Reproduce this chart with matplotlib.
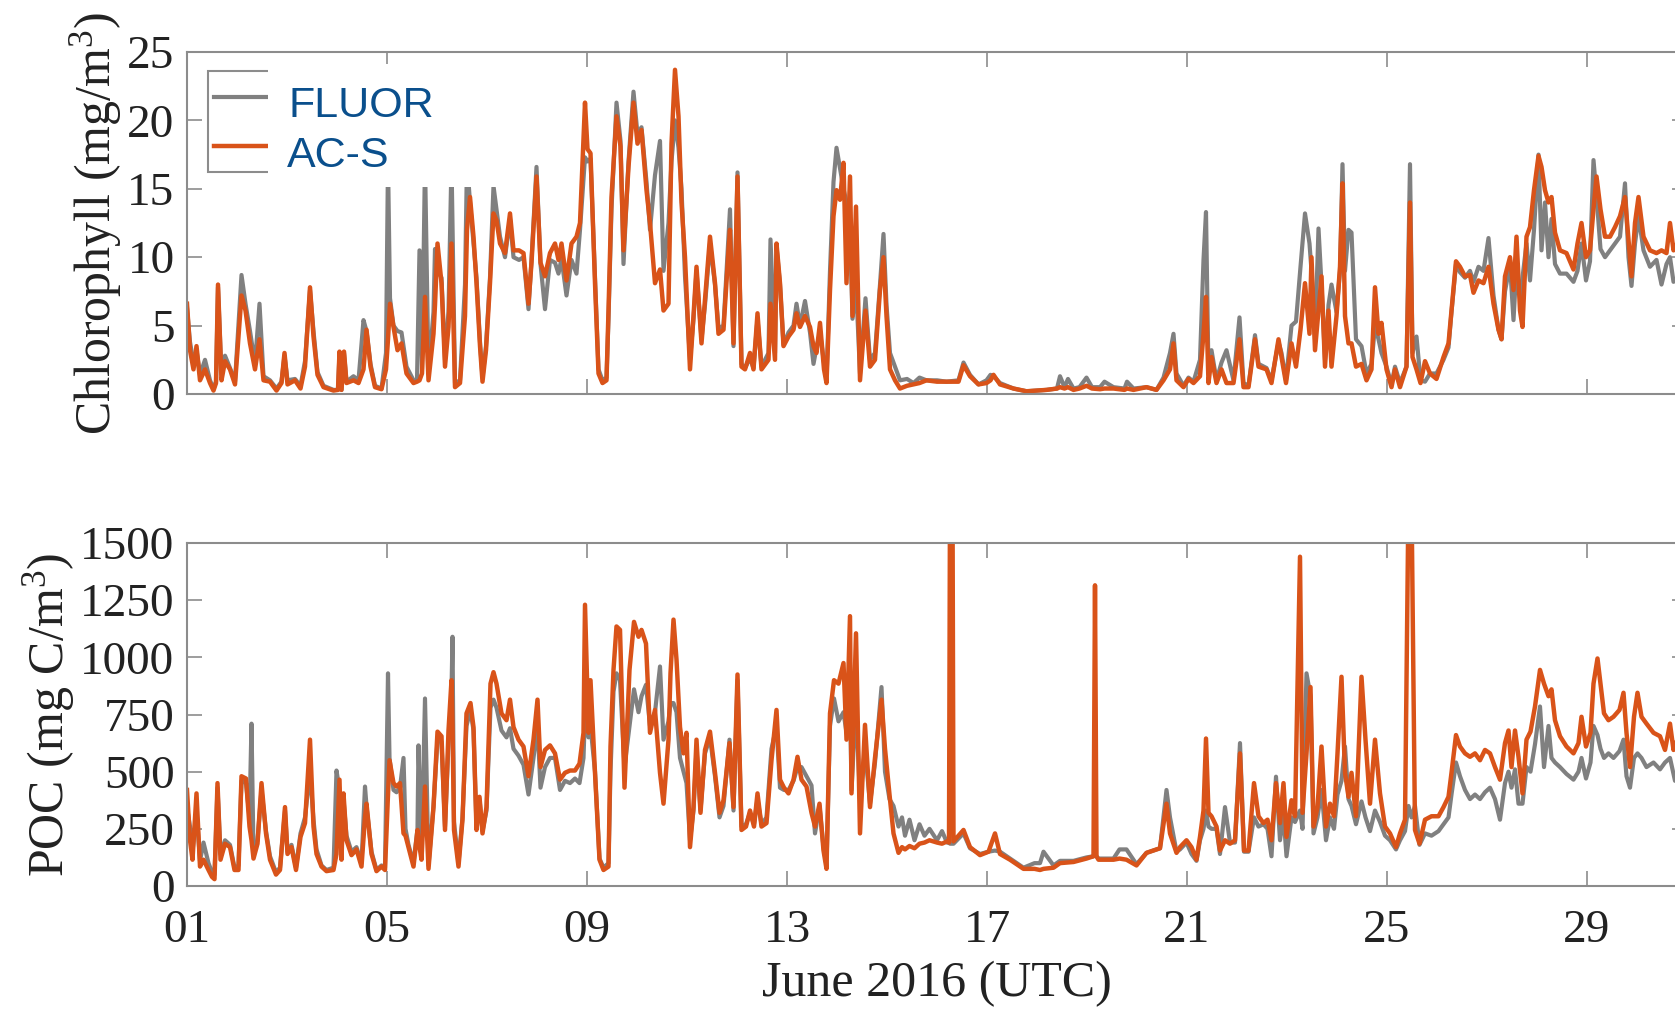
import matplotlib
matplotlib.use("Agg")
import matplotlib.pyplot as plt
from matplotlib.patches import Rectangle
from matplotlib.lines import Line2D

plt.rcParams['font.family'] = 'Liberation Serif'
plt.rcParams['mathtext.fontset'] = 'custom'
plt.rcParams['mathtext.rm'] = 'Liberation Serif'
plt.rcParams['mathtext.it'] = 'Liberation Serif:italic'

# ---- data (day of June 2016) ----
chl_day = [
    1.00, 1.06, 1.13, 1.19, 1.26, 1.36, 1.46, 1.53, 1.58, 1.62, 1.69, 1.76, 1.86, 1.96,
    2.09, 2.17, 2.26, 2.36, 2.45, 2.53, 2.66, 2.79, 2.89, 2.95,
    3.01, 3.16, 3.27, 3.36, 3.46, 3.53, 3.61, 3.73, 3.93,
    4.02, 4.05, 4.09, 4.14, 4.19, 4.33, 4.43, 4.53, 4.59, 4.67, 4.76, 4.89, 4.98,
    5.02, 5.06, 5.13, 5.21, 5.29, 5.39, 5.53, 5.60, 5.65, 5.70, 5.76, 5.83, 5.93, 5.96,
    6.01, 6.09, 6.16, 6.23, 6.29, 6.36, 6.46, 6.56, 6.60, 6.66, 6.73, 6.79, 6.86, 6.91, 6.98,
    7.06, 7.13, 7.19, 7.26, 7.36, 7.46, 7.53, 7.64, 7.73, 7.83, 7.89, 7.99,
    8.07, 8.16, 8.26, 8.36, 8.43, 8.49, 8.59, 8.69, 8.79, 8.86, 8.96,
    9.01, 9.07, 9.16, 9.23, 9.31, 9.39, 9.43, 9.49, 9.59, 9.67, 9.73, 9.83, 9.93,
    10.01, 10.09, 10.19, 10.26, 10.36, 10.46, 10.53, 10.63, 10.69, 10.76, 10.83, 10.89, 10.96,
    11.06, 11.13, 11.19, 11.29, 11.36, 11.46, 11.56, 11.63, 11.73, 11.83, 11.86, 11.93,
    12.01, 12.09, 12.16, 12.26, 12.33, 12.41, 12.49, 12.63, 12.67, 12.76, 12.79, 12.86, 12.93,
    13.03, 13.13, 13.19, 13.26, 13.36, 13.46, 13.53, 13.59, 13.66, 13.74, 13.79, 13.86, 13.93, 13.99,
    14.06, 14.13, 14.19, 14.26, 14.31, 14.38, 14.46, 14.57, 14.66, 14.76, 14.86, 14.93, 14.99,
    15.06, 15.16, 15.26, 15.40, 15.53, 15.65, 15.79,
    16.00, 16.19, 16.43, 16.53, 16.66, 16.83, 16.99,
    17.07, 17.13, 17.26, 17.53, 17.79,
    18.19, 18.40, 18.46, 18.55, 18.62, 18.73, 18.85, 18.99,
    19.10, 19.26, 19.35, 19.53, 19.75, 19.80, 19.93,
    20.19, 20.39, 20.53, 20.66, 20.73, 20.79, 20.93,
    21.03, 21.13, 21.26, 21.33, 21.38, 21.43, 21.49, 21.59, 21.69, 21.79, 21.93,
    22.05, 22.13, 22.23, 22.36, 22.43, 22.59, 22.69, 22.83, 22.89, 22.98,
    23.09, 23.18, 23.27, 23.36, 23.45, 23.49, 23.56, 23.63, 23.69, 23.76, 23.83, 23.89, 23.99,
    24.06, 24.11, 24.16, 24.23, 24.29, 24.38, 24.49, 24.59, 24.69, 24.76, 24.83, 24.89, 24.99,
    25.09, 25.16, 25.26, 25.39, 25.46, 25.51, 25.59, 25.67, 25.76, 25.86, 25.99,
    26.13, 26.23, 26.29, 26.38, 26.46, 26.56, 26.66, 26.73, 26.83, 26.93,
    27.03, 27.13, 27.23, 27.29, 27.36, 27.46, 27.53, 27.59, 27.66, 27.71, 27.79, 27.86, 27.94,
    28.03, 28.09, 28.16, 28.23, 28.29, 28.36, 28.46, 28.59, 28.73, 28.81, 28.89, 28.98,
    29.06, 29.13, 29.19, 29.27, 29.36, 29.46, 29.56, 29.66, 29.76, 29.83, 29.89, 29.96,
    30.03, 30.13, 30.26, 30.39, 30.49, 30.59, 30.66, 30.73, 30.80, 30.90, 31.00,
]
chl_acs = [
    6.6, 3.2, 1.8, 3.5, 1.0, 1.8, 0.8, 0.25, 0.8, 8.0, 1.0, 2.4, 1.8, 0.7,
    7.2, 6.1, 3.7, 1.8, 4.0, 1.0, 0.9, 0.25, 0.8, 3.0,
    0.7, 1.0, 0.4, 2.0, 7.8, 4.2, 1.4, 0.5, 0.25,
    0.3, 3.1, 0.3, 3.1, 0.8, 1.0, 0.8, 1.8, 4.7, 2.0, 0.5, 0.35, 1.8,
    4.0, 6.6, 4.9, 3.2, 3.7, 1.5, 0.8, 0.9, 1.0, 1.5, 7.1, 1.0, 4.4, 6.5,
    11.0, 8.1, 2.0, 4.9, 11.0, 0.5, 0.8, 5.7, 12.0, 14.4, 11.5, 8.1, 3.5, 0.9, 3.2,
    8.1, 13.2, 12.7, 11.0, 10.3, 13.2, 10.5, 10.5, 10.3, 6.6, 9.6, 15.9,
    9.6, 8.6, 10.3, 11.0, 9.8, 11.0, 8.3, 11.0, 11.5, 12.5, 21.3,
    17.9, 17.6, 8.1, 1.5, 0.8, 1.0, 6.1, 14.4, 20.3, 18.1, 10.5, 16.6, 21.3,
    18.3, 19.3, 14.9, 12.5, 8.1, 9.1, 6.1, 6.6, 18.3, 23.7, 20.3, 14.0, 10.0,
    1.8, 5.7, 9.3, 3.7, 6.9, 11.5, 8.1, 4.4, 4.7, 10.5, 12.0, 3.7,
    15.9, 2.0, 1.8, 3.0, 1.8, 5.9, 1.8, 2.5, 6.6, 2.5, 11.0, 8.1, 3.5,
    4.2, 4.7, 5.9, 4.9, 5.7, 4.9, 3.5, 3.0, 5.2, 1.8, 0.8, 7.6, 13.0, 14.9,
    14.2, 16.9, 8.1, 15.9, 5.7, 13.7, 1.0, 6.1, 2.0, 2.5, 7.6, 10.0, 5.7,
    1.8, 1.0, 0.4, 0.6, 0.7, 0.8, 1.0,
    0.9, 0.9, 0.9, 2.1, 1.3, 0.7, 0.8,
    1.0, 1.4, 0.7, 0.4, 0.2,
    0.3, 0.4, 0.5, 0.4, 0.5, 0.3, 0.4, 0.6,
    0.4, 0.35, 0.4, 0.4, 0.3, 0.4, 0.3,
    0.5, 0.3, 1.0, 1.8, 3.7, 1.0, 0.5,
    1.1, 0.8, 1.3, 4.4, 7.1, 0.8, 2.7, 0.8, 1.8, 0.8, 0.8,
    4.0, 0.5, 0.5, 4.0, 2.0, 1.8, 0.8, 4.0, 2.7, 0.8,
    3.7, 2.0, 4.7, 8.1, 4.4, 10.0, 3.2, 6.1, 8.6, 2.0, 6.1, 2.0, 5.7,
    9.3, 15.4, 5.7, 3.7, 3.7, 2.0, 2.2, 1.0, 1.8, 7.8, 4.4, 5.2, 1.8,
    0.5, 1.8, 0.5, 2.0, 14.0, 2.7, 1.8, 0.8, 2.4, 1.5, 1.1,
    2.7, 3.7, 6.1, 9.7, 9.3, 8.6, 8.7, 7.4, 8.3, 8.1,
    9.3, 6.6, 4.7, 4.0, 8.6, 10.0, 7.6, 11.5, 6.1, 4.9, 11.5, 12.2, 14.9,
    17.4, 16.6, 14.9, 14.0, 14.4, 11.8, 10.5, 10.3, 9.1, 11.0, 12.5, 10.0,
    10.5, 13.5, 15.9, 13.5, 11.5, 11.5, 12.2, 13.0, 14.4, 11.3, 8.6, 12.5,
    14.4, 11.5, 10.5, 10.3, 10.5, 10.3, 12.5, 10.5, 11.0, 10.8, 10.5,
]
chl_fluor = [
    6.3, 3.8, 2.3, 3.2, 1.4, 2.5, 1.0, 0.4, 0.9, 7.8, 1.4, 2.8, 1.9, 0.9,
    8.7, 6.6, 4.6, 2.2, 6.6, 1.3, 1.0, 0.4, 0.9, 2.8,
    1.0, 1.1, 0.6, 2.4, 7.6, 4.6, 1.6, 0.6, 0.3,
    0.3, 3.0, 0.3, 3.0, 0.9, 1.3, 1.0, 5.4, 4.6, 2.2, 0.6, 0.4, 3.0,
    17.0, 7.0, 5.0, 4.6, 4.5, 2.0, 1.0, 1.0, 10.5, 1.8, 17.0, 1.5, 6.0, 10.6,
    9.0, 8.5, 2.5, 6.0, 17.0, 0.8, 1.0, 8.0, 17.0, 14.0, 11.0, 8.5, 3.8, 1.2, 3.5,
    8.5, 15.2, 13.5, 11.5, 10.0, 12.8, 10.0, 9.8, 10.0, 6.2, 9.8, 16.6,
    9.5, 6.2, 9.8, 9.6, 8.8, 9.9, 7.2, 9.8, 8.8, 12.0, 17.3,
    17.0, 17.2, 8.5, 1.8, 1.0, 1.2, 5.5, 13.5, 21.3, 18.5, 9.5, 17.0, 22.1,
    19.0, 19.5, 15.5, 12.0, 16.0, 18.5, 9.0, 12.5, 17.0, 20.0, 18.0, 15.0, 8.6,
    2.5, 5.5, 9.0, 4.0, 6.5, 11.0, 8.0, 4.8, 5.0, 11.5, 13.5, 3.5,
    16.2, 2.2, 1.9, 2.6, 1.9, 5.5, 2.0, 3.0, 11.3, 3.0, 10.8, 8.0, 3.6,
    4.5, 5.0, 6.6, 5.0, 6.8, 4.5, 2.2, 3.4, 4.5, 2.3, 1.0, 9.0, 15.5, 18.0,
    16.5, 15.0, 14.0, 12.0, 5.5, 8.0, 1.5, 7.0, 2.5, 3.0, 8.0, 11.7, 6.5,
    3.0, 2.0, 1.0, 1.1, 0.8, 1.2, 1.0,
    1.0, 0.9, 1.0, 2.3, 1.4, 0.7, 1.0,
    1.4, 1.3, 0.8, 0.4, 0.2,
    0.3, 0.4, 1.3, 0.5, 1.1, 0.4, 0.5, 1.2,
    0.5, 0.5, 0.9, 0.5, 0.4, 0.9, 0.4,
    0.5, 0.3, 1.2, 3.0, 4.4, 1.5, 0.6,
    1.2, 0.9, 2.5, 9.8, 13.3, 1.5, 3.2, 1.0, 2.3, 3.2, 1.0,
    5.6, 0.8, 0.6, 4.3, 2.2, 1.9, 1.0, 3.8, 3.0, 1.0,
    5.0, 5.3, 9.3, 13.2, 11.0, 9.0, 4.0, 12.1, 8.0, 2.5, 6.5, 8.0, 6.0,
    9.0, 16.8, 9.0, 12.0, 11.8, 4.0, 3.5, 1.5, 2.2, 5.0, 4.0, 3.0, 2.0,
    0.7, 2.0, 0.8, 2.0, 16.8, 3.0, 4.2, 1.0, 0.9, 1.5, 1.5,
    2.5, 3.4, 6.0, 9.5, 8.9, 8.5, 9.0, 8.2, 9.3, 9.0,
    11.4, 7.2, 4.7, 4.0, 7.5, 9.5, 5.4, 9.4, 7.0, 8.5, 11.0, 8.3, 12.0,
    17.5, 10.5, 14.0, 10.0, 12.8, 9.5, 8.8, 8.8, 8.2, 9.0, 11.0, 8.3,
    9.7, 17.1, 14.5, 10.6, 10.0, 10.5, 11.0, 11.5, 15.4, 10.0, 7.9, 11.0,
    13.0, 10.5, 9.3, 9.8, 8.0, 9.5, 10.0, 8.2, 8.5, 9.5, 9.2,
]

poc_day = [
    1.00, 1.06, 1.11, 1.19, 1.26, 1.33, 1.43, 1.50, 1.55, 1.61, 1.67, 1.76, 1.86, 1.95,
    2.03, 2.09, 2.18, 2.25, 2.29, 2.33, 2.41, 2.49, 2.58, 2.66, 2.78, 2.86, 2.96,
    3.01, 3.09, 3.18, 3.27, 3.36, 3.46, 3.53, 3.59, 3.69, 3.79, 3.93, 3.99,
    4.05, 4.09, 4.13, 4.19, 4.29, 4.39, 4.49, 4.56, 4.59, 4.69, 4.79, 4.89, 4.96,
    5.02, 5.05, 5.13, 5.19, 5.26, 5.33, 5.37, 5.43, 5.53, 5.61, 5.63, 5.69, 5.76, 5.83, 5.93,
    6.01, 6.09, 6.16, 6.23, 6.29, 6.31, 6.34, 6.43, 6.51, 6.59, 6.67, 6.73, 6.79, 6.85, 6.91, 6.99,
    7.07, 7.13, 7.19, 7.29, 7.39, 7.46, 7.53, 7.63, 7.73, 7.83, 7.93,
    8.01, 8.07, 8.16, 8.26, 8.36, 8.46, 8.56, 8.66, 8.76, 8.85, 8.93, 8.96,
    9.03, 9.07, 9.16, 9.25, 9.33, 9.43, 9.47, 9.53, 9.59, 9.66, 9.75, 9.85, 9.94,
    10.03, 10.09, 10.18, 10.26, 10.36, 10.46, 10.53, 10.63, 10.67, 10.73, 10.79, 10.86, 10.93, 10.99,
    11.06, 11.13, 11.19, 11.27, 11.36, 11.46, 11.56, 11.65, 11.73, 11.85, 11.93,
    12.01, 12.09, 12.18, 12.26, 12.34, 12.41, 12.49, 12.59, 12.69, 12.79, 12.86, 12.94,
    13.03, 13.13, 13.21, 13.29, 13.39, 13.49, 13.56, 13.65, 13.73, 13.79, 13.86, 13.94,
    14.03, 14.13, 14.19, 14.26, 14.29, 14.38, 14.46, 14.56, 14.66, 14.76, 14.89, 14.96,
    15.05, 15.13, 15.23, 15.30, 15.36, 15.45, 15.55, 15.65, 15.75, 15.85,
    16.00, 16.10, 16.20, 16.24, 16.26, 16.31, 16.33, 16.53, 16.66, 16.86,
    17.03, 17.16, 17.26, 17.46, 17.73, 17.95,
    18.06, 18.13, 18.33, 18.46, 18.73, 18.99,
    19.13, 19.16, 19.19, 19.23, 19.53, 19.65, 19.79, 19.99,
    20.19, 20.46, 20.59, 20.66, 20.79, 20.86, 20.99,
    21.09, 21.19, 21.26, 21.33, 21.38, 21.43, 21.49, 21.59, 21.66, 21.76, 21.86, 21.96,
    22.06, 22.14, 22.23, 22.34, 22.43, 22.53, 22.61, 22.69, 22.78, 22.86, 22.93, 22.99,
    23.09, 23.16, 23.26, 23.31, 23.39, 23.47, 23.53, 23.61, 23.69, 23.78, 23.86, 23.94,
    24.01, 24.09, 24.16, 24.23, 24.29, 24.38, 24.49, 24.57, 24.66, 24.76, 24.86, 24.96,
    25.06, 25.18, 25.26, 25.36, 25.43, 25.49, 25.56, 25.65, 25.76, 25.89,
    26.03, 26.13, 26.23, 26.29, 26.38, 26.46, 26.56, 26.66, 26.76, 26.86, 26.96,
    27.06, 27.16, 27.26, 27.36, 27.43, 27.49, 27.56, 27.63, 27.71, 27.79, 27.87, 27.96,
    28.06, 28.14, 28.23, 28.29, 28.36, 28.46, 28.59, 28.73, 28.83, 28.89, 28.98,
    29.07, 29.13, 29.21, 29.27, 29.34, 29.43, 29.53, 29.65, 29.73, 29.79, 29.86, 29.94,
    30.01, 30.09, 30.19, 30.33, 30.46, 30.56, 30.66, 30.73, 30.76, 30.85, 30.95, 31.00,
]
poc_acs = [
    420, 200, 115, 405, 85, 115, 70, 40, 30, 450, 115, 185, 170, 70,
    70, 480, 470, 260, 200, 120, 185, 450, 230, 115, 50, 70, 345,
    140, 170, 70, 215, 275, 640, 260, 140, 85, 65, 70, 140,
    465, 115, 405, 200, 135, 160, 85, 300, 360, 140, 65, 85, 70,
    400, 550, 450, 435, 450, 230, 220, 170, 85, 245, 200, 115, 435, 75, 345,
    675, 655, 245, 680, 900, 700, 245, 85, 290, 755, 800, 695, 245, 390, 230, 345,
    885, 935, 885, 755, 725, 815, 695, 640, 610, 480, 640,
    815, 520, 595, 615, 580, 465, 495, 505, 505, 535, 670, 1230,
    670, 900, 495, 115, 70, 85, 610, 945, 1135, 1120, 430, 945, 1155,
    1090, 1120, 1060, 670, 770, 495, 360, 640, 930, 1165, 990, 695, 580, 670,
    170, 345, 640, 320, 595, 675, 495, 320, 375, 625, 345,
    925, 245, 260, 330, 260, 405, 260, 275, 550, 770, 465, 430,
    405, 465, 565, 465, 435, 320, 260, 360, 155, 75, 755, 900,
    885, 975, 640, 1180, 405, 1105, 230, 705, 345, 560, 815, 600,
    400, 230, 145, 170, 160, 175, 165, 185, 190, 200,
    190, 185, 195, 190, 1700, 1700, 195, 245, 170, 135,
    150, 230, 140, 115, 75, 75,
    70, 75, 80, 100, 105, 120,
    130, 1315, 130, 115, 115, 120, 115, 90,
    145, 165, 360, 230, 145, 170, 200,
    170, 115, 215, 330, 645, 320, 305, 260, 155, 200, 185, 200,
    580, 155, 155, 450, 305, 275, 290, 200, 450, 275, 450, 215,
    375, 305, 1440, 320, 580, 870, 260, 345, 610, 260, 360, 305,
    580, 915, 495, 390, 495, 305, 915, 640, 360, 640, 405, 260,
    230, 170, 230, 290, 1700, 1700, 245, 185, 290, 305,
    305, 345, 390, 495, 660, 610, 580, 565, 580, 550, 595,
    580, 520, 465, 625, 680, 520, 680, 565, 405, 640, 675, 785,
    945, 885, 830, 860, 725, 655, 610, 580, 625, 740, 610,
    670, 885, 995, 885, 755, 725, 740, 770, 845, 670, 520, 740,
    845, 740, 710, 670, 655, 595, 710, 595, 625, 640, 620, 630,
]
poc_fluor = [
    345, 260, 150, 330, 110, 190, 100, 60, 50, 430, 140, 200, 180, 80,
    90, 460, 450, 300, 710, 140, 200, 420, 240, 130, 60, 80, 330,
    150, 180, 80, 230, 300, 500, 290, 160, 90, 70, 80, 505,
    420, 130, 380, 220, 150, 170, 100, 435, 350, 150, 70, 90, 80,
    930, 560, 420, 410, 430, 560, 250, 180, 100, 250, 615, 130, 820, 90, 350,
    640, 630, 260, 620, 850, 1090, 280, 100, 300, 700, 770, 680, 260, 380, 240, 330,
    780, 815, 780, 680, 650, 690, 600, 570, 530, 400, 560,
    700, 430, 520, 560, 560, 420, 460, 450, 470, 450, 560, 760,
    650, 700, 500, 120, 80, 100, 500, 850, 930, 900, 520, 700, 860,
    760, 830, 880, 700, 760, 960, 640, 720, 800, 800, 760, 560, 500, 450,
    200, 330, 600, 330, 580, 650, 480, 300, 350, 640, 330,
    900, 260, 270, 320, 270, 380, 270, 300, 600, 700, 430, 420,
    420, 460, 520, 520, 480, 440, 230, 350, 170, 90, 700, 820,
    720, 760, 670, 820, 420, 800, 380, 600, 360, 540, 870, 500,
    380, 350, 260, 300, 220, 290, 200, 270, 220, 250,
    200, 240, 190, 190, 185, 185, 185, 230, 165, 140,
    150, 155, 150, 120, 80, 100,
    100, 150, 90, 110, 110, 125,
    130, 135, 130, 120, 120, 160, 160, 95,
    145, 165, 420, 300, 150, 160, 190,
    140, 110, 200, 250, 330, 260, 250, 250, 140, 345, 190, 190,
    625, 150, 150, 300, 260, 270, 250, 130, 478, 200, 310, 130,
    300, 280, 330, 250, 930, 830, 230, 300, 420, 200, 300, 250,
    400, 460, 610, 380, 350, 270, 370, 300, 240, 330, 280, 220,
    200, 160, 200, 240, 350, 300, 350, 180, 230, 220,
    240, 270, 300, 400, 540, 480, 420, 380, 400, 380, 410,
    430, 380, 290, 450, 500, 430, 510, 360, 360, 520, 500, 620,
    785, 520, 700, 560, 540, 520, 490, 465, 500, 560, 470,
    540, 700, 660, 600, 560, 580, 560, 590, 640, 480, 430, 560,
    580, 560, 520, 540, 510, 540, 560, 490, 460, 500, 520, 510,
]

tick_days = [1, 5, 9, 13, 17, 21, 25, 29]
tick_labels = ['01', '05', '09', '13', '17', '21', '25', '29']
chl_ticks = [0, 5, 10, 15, 20, 25]
poc_ticks = [0, 250, 500, 750, 1000, 1250, 1500]

gray = '#808080'
orange = '#D95319'
axis_c = '#8c8c8c'
text_c = '#222222'
blue = '#0a4f8c'

W, H = 1675, 1010
fig = plt.figure(figsize=(W / 100, H / 100), dpi=100)


def px_rect(left, top, right, bottom):
    # pixel box (origin top-left) -> figure fraction [x, y, w, h]
    return [left / W, 1 - bottom / H, (right - left) / W, (bottom - top) / H]


ax1 = fig.add_axes(px_rect(187, 52, 1687, 394))
ax2 = fig.add_axes(px_rect(187, 543, 1687, 886))

ax1.plot(chl_day, chl_fluor, color=gray, lw=3.0)
ax1.plot(chl_day, chl_acs, color=orange, lw=3.2)
ax2.plot(poc_day, poc_fluor, color=gray, lw=3.0)
ax2.plot(poc_day, poc_acs, color=orange, lw=3.2)

ax1.set_ylim(0, 25)
ax1.set_yticks(chl_ticks)
ax2.set_ylim(0, 1500)
ax2.set_yticks(poc_ticks)

for ax in (ax1, ax2):
    ax.set_xlim(1, 31)
    ax.set_xticks(tick_days)
    ax.tick_params(direction='in', length=11, width=1.2, color=axis_c,
                   top=True, right=True, labelsize=34, labelcolor=text_c)
    ax.tick_params(axis='y', pad=9)
    ax.tick_params(axis='x', pad=17)
    for s in ax.spines.values():
        s.set_color(axis_c)
        s.set_linewidth(1.5)

ax1.tick_params(labelbottom=False)
ax2.set_xticklabels(tick_labels)

ax1.set_ylabel(r'Chlorophyll (mg/m$^{3}$)', fontsize=36, color=text_c, labelpad=2)
ax2.set_ylabel(r'POC (mg C/m$^{3}$)', fontsize=36, color=text_c, labelpad=2)
ax2.set_xlabel('June 2016 (UTC)', fontsize=36, color=text_c, labelpad=6)

# legend box, partly hidden behind a white panel as in the original
frame = Rectangle((208 / W, 1 - 172 / H), (420 - 208) / W, (172 - 71) / H,
                  transform=fig.transFigure, facecolor='white',
                  edgecolor=axis_c, lw=1.5, zorder=3)
fig.add_artist(frame)
fig.add_artist(Line2D([214 / W, 272 / W], [1 - 97 / H] * 2,
                      transform=fig.transFigure, color=gray, lw=3.0, zorder=4))
fig.add_artist(Line2D([214 / W, 272 / W], [1 - 146 / H] * 2,
                      transform=fig.transFigure, color=orange, lw=3.2, zorder=4))
cover = Rectangle((268 / W, 1 - 187 / H), (505 - 268) / W, (187 - 64) / H,
                  transform=fig.transFigure, facecolor='white',
                  edgecolor='none', zorder=5)
fig.add_artist(cover)
fig.text(288 / W, 1 - 117 / H, 'FLUOR', fontsize=31, family='Liberation Sans',
         color=blue, va='baseline', zorder=6)
fig.text(287 / W, 1 - 167 / H, 'AC-S', fontsize=31, family='Liberation Sans',
         color=blue, va='baseline', zorder=6)

fig.savefig('out.png', dpi=100)
